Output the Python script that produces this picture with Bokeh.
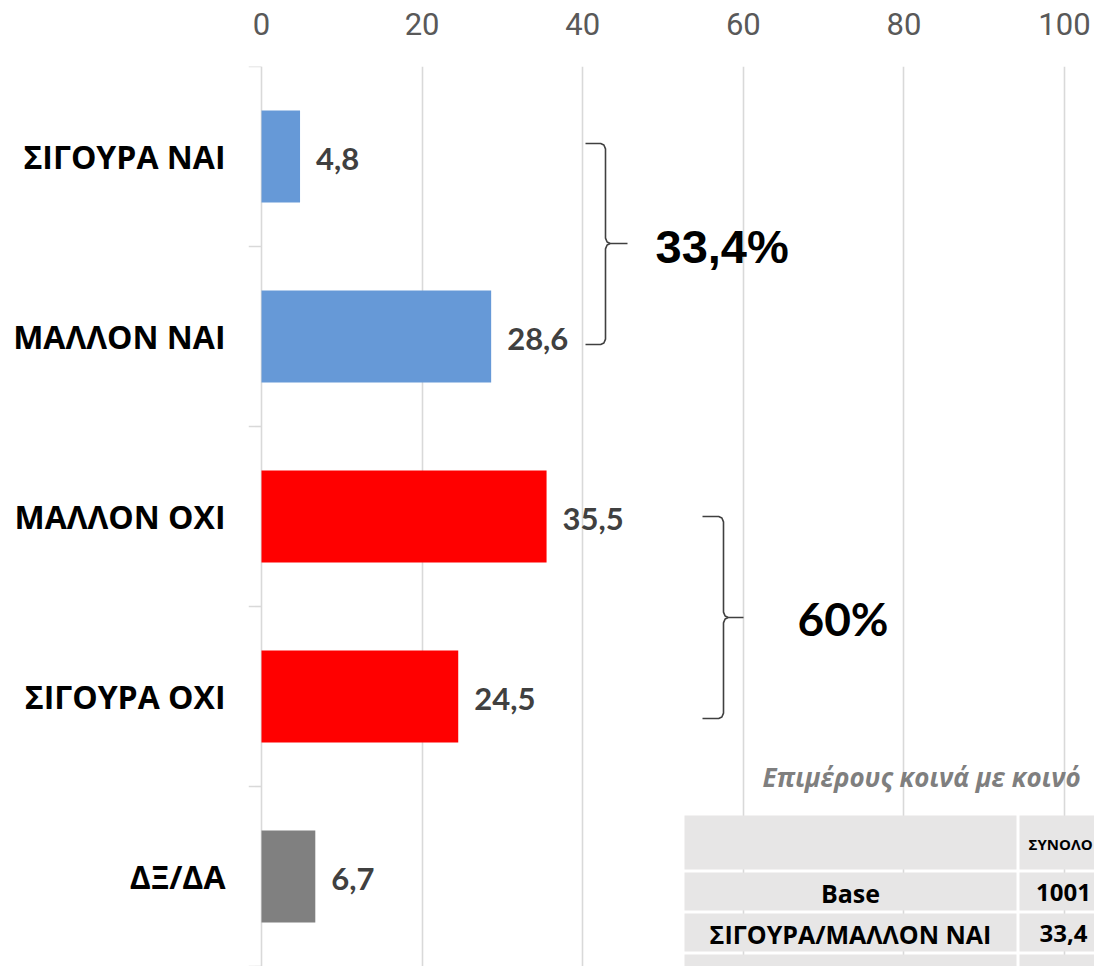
from bokeh.plotting import figure
from bokeh.models import Range1d, FixedTicker
from bokeh.core.properties import value
from bokeh.embed import file_html
from bokeh.resources import INLINE

# ---------------- data ----------------
categories = ["ΣΙΓΟΥΡΑ ΝΑΙ", "ΜΑΛΛΟΝ ΝΑΙ", "ΜΑΛΛΟΝ ΟΧΙ", "ΣΙΓΟΥΡΑ ΟΧΙ", "ΔΞ/ΔΑ"]
values = [4.8, 28.6, 35.5, 24.5, 6.7]
value_labels = ["4,8", "28,6", "35,5", "24,5", "6,7"]
bar_colors = ["#6699D7", "#6699D7", "#FF0000", "#FF0000", "#808080"]
x_ticks = [0, 20, 40, 60, 80, 100]
group_labels = ["33,4%", "60%"]
subtitle = "Επιμέρους κοινά με κοινό"
table_first_col = ["", "Base", "ΣΙΓΟΥΡΑ/ΜΑΛΛΟΝ ΝΑΙ", ""]
table_total_col = ["ΣΥΝΟΛΟ", "1001", "33,4", ""]

# ---------------- layout helpers (canvas px -> data) ----------------
W, H = 1094, 966
N = len(categories)
PX_PER_UNIT = 8.03               # horizontal px per percentage point
ZERO_PX = 261                    # canvas x of value 0
BAND_PX = 180                    # height of one category band
TOP_PX = 66                      # canvas y of top of first band
FRAME_LEFT_PX = 248


def X(px):
    return (px - ZERO_PX) / PX_PER_UNIT


def Y(py):
    return (TOP_PX + N * BAND_PX - py) / BAND_PX


p = figure(width=W, height=H, output_backend="svg", toolbar_location=None,
           x_range=Range1d(X(FRAME_LEFT_PX), X(W)),
           y_range=Range1d(Y(H), Y(TOP_PX)),
           x_axis_location="above",
           min_border_left=FRAME_LEFT_PX, min_border_top=TOP_PX,
           min_border_right=0, min_border_bottom=0)
p.outline_line_color = None
p.background_fill_color = "white"
p.border_fill_color = "white"

# category centres / boundaries (top to bottom)
y_pos = [N - 0.5 - i for i in range(N)]
bounds = list(range(N + 1))

# top axis
xa = p.xaxis[0]
xa.ticker = FixedTicker(ticks=x_ticks)
xa.axis_line_color = None
xa.major_tick_line_color = None
xa.minor_tick_line_color = None
xa.major_label_standoff = 26
xa.major_label_text_font = "Roboto"
xa.major_label_text_font_size = "31px"
xa.major_label_text_color = "#595959"

# left category axis
ya = p.yaxis[0]
ya.ticker = FixedTicker(ticks=y_pos)
ya.major_label_overrides = {y: c for y, c in zip(y_pos, categories)}
ya.axis_line_color = None
ya.major_tick_line_color = None
ya.minor_tick_line_color = None
ya.major_label_standoff = 17
ya.major_label_text_font = "Open Sans"
ya.major_label_text_font_style = "bold"
ya.major_label_text_font_size = "32px"
ya.major_label_text_color = "#000000"

p.xgrid.ticker = FixedTicker(ticks=x_ticks)
p.xgrid.grid_line_color = "#D9D9D9"
p.xgrid.grid_line_width = 1.6
p.ygrid.grid_line_color = None

# category boundary ticks on the left
p.segment(x0=[X(FRAME_LEFT_PX)] * len(bounds), x1=[0] * len(bounds), y0=bounds, y1=bounds,
          line_color="#D9D9D9", line_width=1.6)

# bars
p.hbar(y=y_pos, left=0, right=values, height=0.51, fill_color=bar_colors,
       line_color=None)
p.text(x=values, y=y_pos, text=value_labels, x_offset=16, y_offset=2,
       text_align="left", text_baseline="middle", text_color="#404040",
       text_font=value("Lato"), text_font_style="bold", text_font_size="31px")


# braces
def brace(x0, xv, xt, ytop, ymid, ybot):
    dx, dy = 0.6, 0.03
    xs = [x0, xv - dx, xv - 0.2, xv, xv, xv + 0.2, xv + dx, xt,
          xv + dx, xv + 0.2, xv, xv, xv - 0.2, xv - dx, x0]
    ys = [ytop, ytop, ytop - 0.008, ytop - dy, ymid + dy, ymid + 0.008, ymid, ymid,
          ymid, ymid - 0.008, ymid - dy, ybot + dy, ybot + 0.008, ybot, ybot]
    return xs, ys


b1 = brace(X(585), X(605), X(627), Y(143), Y(243), Y(344))
b2 = brace(X(702), X(723), X(743), Y(516), Y(617), Y(718))
p.multi_line(xs=[b1[0], b2[0]], ys=[b1[1], b2[1]], line_color="#404040", line_width=1.6)

p.text(x=[X(655)], y=[Y(246)], text=[group_labels[0]], text_align="left",
       text_baseline="middle", text_color="#000000",
       text_font=value("Liberation Sans"), text_font_style="bold", text_font_size="47px")
p.text(x=[X(797)], y=[Y(618)], text=[group_labels[1]], text_align="left",
       text_baseline="middle", text_color="#000000",
       text_font=value("Lato"), text_font_style="bold", text_font_size="46px")

# subtitle
p.text(x=[X(762)], y=[Y(776)], text=[subtitle], text_align="left",
       text_baseline="middle", text_color="#7F7F7F",
       text_font=value("Open Sans"), text_font_style="bold italic", text_font_size="26px")

# table
row_px = [(815, 869), (872, 910), (913, 951), (954, 1010)]
col_px = [(684, 1016), (1019, 1110)]
lefts, rights, tops, bottoms = [], [], [], []
for (t, b) in row_px:
    for (l, r) in col_px:
        lefts.append(X(l)); rights.append(X(r)); tops.append(Y(t)); bottoms.append(Y(b))
p.quad(left=lefts, right=rights, top=tops, bottom=bottoms, fill_color="#E7E6E6",
       line_color=None)
row_centers = [Y((t + b) / 2 + 1) for (t, b) in row_px]
p.text(x=[X(850)] * 2, y=row_centers[1:3], text=table_first_col[1:3], text_align="center",
       text_baseline="middle", text_color="#000000",
       text_font=value("Open Sans"), text_font_style="bold", text_font_size="25px")
p.text(x=[X(1063)] * 2, y=row_centers[1:3], text=table_total_col[1:3], text_align="center",
       text_baseline="middle", text_color="#000000",
       text_font=value("Open Sans"), text_font_style="bold", text_font_size="24px")
p.text(x=[X(1028)], y=row_centers[:1], text=table_total_col[:1], text_align="left",
       text_baseline="middle", text_color="#000000",
       text_font=value("Open Sans"), text_font_style="bold", text_font_size="15px")

open("out.html", "w").write(file_html(p, INLINE))
